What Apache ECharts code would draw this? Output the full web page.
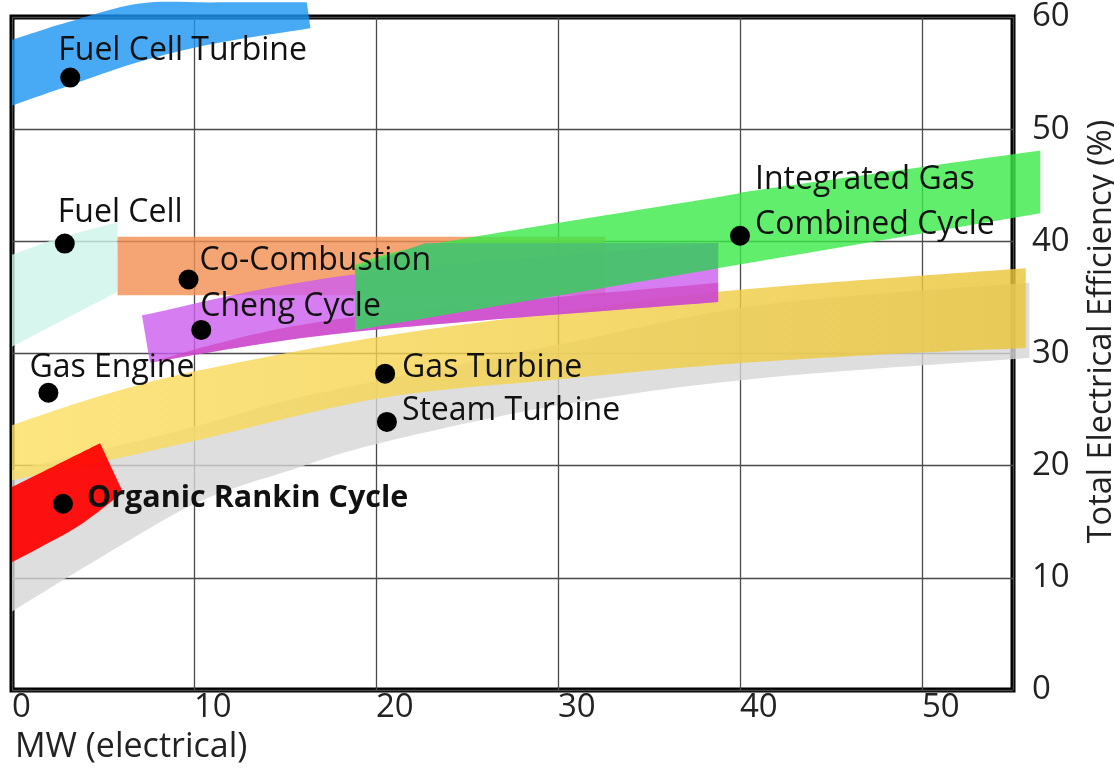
<!DOCTYPE html>
<html>
<head>
<meta charset="utf-8">
<script src="https://cdn.jsdelivr.net/npm/echarts@6/dist/echarts.min.js"></script>
<style>
html,body{margin:0;padding:0;background:#fff;}
#chart{width:1114px;height:772px;}
</style>
</head>
<body>
<div id="chart"></div>
<script>
// ================= DATA =================
const xTickValues = [0, 10, 20, 30, 40, 50];
const yTickValues = [0, 10, 20, 30, 40, 50, 60];
const xAxisTitle = 'MW (electrical)';
const yAxisTitle = 'Total Electrical Efficiency (%)';

// technology points
const technologies = ['Fuel Cell Turbine', 'Fuel Cell', 'Co-Combustion', 'Cheng Cycle', 'Gas Engine',
  'Gas Turbine', 'Steam Turbine', 'Organic Rankin Cycle', 'Integrated Gas\nCombined Cycle'];
const powerMW    = [3.2, 2.9, 9.7, 10.4, 2.0, 20.5, 20.6, 2.8, 40.0];
const efficiency = [54.6, 39.8, 36.6, 32.1, 26.5, 28.2, 23.9, 16.6, 40.5];

// range bands: edges as [MW, efficiency %]
const steamUpper   = [[0,19.6],[4.84,21.4],[10.3,23.6],[15.3,25.9],[20.2,27.6],[30.1,30.8],[41.1,34.3],[55.9,36.3]];
const steamLower   = [[0,7.0],[4.84,11.8],[10.3,16.8],[15.3,19.6],[20.2,22.0],[30.1,25.4],[41.1,27.8],[55.9,29.6]];
const gasUpper     = [[0,23.6],[4.84,26.2],[10.3,28.5],[20.2,31.5],[30.1,33.7],[38.8,35.5],[48.8,36.8],[55.7,37.6]];
const gasLower     = [[0,18.7],[4.84,20.3],[10.3,22.3],[20.2,26.0],[30.1,27.7],[38.8,29.0],[48.8,30.0],[55.7,30.5]];
const orcUpper     = [[0,18.1],[2.36,20.0],[4.84,22.0]];
const orcLower     = [[0,11.4],[1.54,12.7],[3.74,14.7],[6.10,17.6]];
const fuelCellUpper = [[0,38.8],[2.6,40.3],[5.8,41.7]];
const fuelCellLower = [[0,30.6],[2.6,32.8],[5.8,35.5]];
const coCombUpper  = [[5.8,40.4],[32.6,40.4]];
const coCombLower  = [[5.8,35.2],[32.6,35.2]];
const chengUpper   = [[7.14,33.4],[18.6,37.0],[38.8,39.85]];
const chengLower   = [[7.58,29.2],[18.6,31.9],[38.8,34.6]];
const chengLowUpper = [[10.3,30.5],[18.6,33.2],[38.8,36.3]];
const igccUpper    = [[18.85,37.9],[22.97,39.7],[38.8,43.95],[41.1,44.6],[56.5,48.1]];
const igccLower    = [[18.85,32.1],[56.5,42.5]];
const overlapUpper = [[18.85,37.6],[22.7,39.85],[38.8,39.85]];
const overlapLower = [[18.85,32.1],[38.8,37.6]];
const fctUpper     = [[0,57.95],[3,59.5],[7,61.2],[11,61.3],[16.2,61.3]];
const fctLower     = [[0,52.1],[3,53.8],[7,56.0],[11,57.6],[16.4,59.0]];

// ================= STYLE / LAYOUT =================
const FONT = 'Open Sans';
const bands = [
  {name: 'Steam Turbine range', upper: steamUpper, lower: steamLower, smooth: true, fill: 'rgba(214,214,214,0.8)'},
  {name: 'Gas Turbine range', upper: gasUpper, lower: gasLower, smooth: true,
    fill: new echarts.graphic.LinearGradient(0, 0, 1, 0, [
      {offset: 0, color: 'rgba(252,222,96,0.8)'}, {offset: 1, color: 'rgba(234,197,58,0.82)'}])},
  {name: 'Organic Rankin Cycle range', upper: orcUpper, lower: orcLower, smooth: true, fill: 'rgba(255,0,0,0.93)'},
  {name: 'Fuel Cell range', upper: fuelCellUpper, lower: fuelCellLower, smooth: true, fill: 'rgba(205,244,234,0.8)'},
  {name: 'Co-Combustion range', upper: coCombUpper, lower: coCombLower, smooth: false, fill: 'rgba(243,143,80,0.8)'},
  {name: 'Cheng Cycle range', upper: chengUpper, lower: chengLower, smooth: true, fill: 'rgba(205,93,239,0.8)'},
  {name: 'Cheng Cycle lower', upper: chengLowUpper, lower: chengLower, smooth: true, fill: 'rgba(205,61,186,0.6)'},
  {name: 'IGCC range', upper: igccUpper, lower: igccLower, smooth: true, fill: 'rgba(56,234,71,0.8)'},
  {name: 'Overlap', upper: overlapUpper, lower: overlapLower, smooth: false, fill: 'rgba(75,188,115,0.82)'},
  {name: 'Fuel Cell Turbine range', upper: fctUpper, lower: fctLower, smooth: true, fill: 'rgba(26,149,243,0.8)'}
];

// label offsets from the dot centre (px): [dx, dy]
const labelOffsets = [[-12,-27],[-7,-31],[11,-19],[-1,-23],[-19,-25],[17,-6],[15,-11],[24,-5],[15,-33]];
const DOT = 20;

function curve(pts, smooth, start) {
  let s = (start ? 'M' : 'L') + pts[0][0].toFixed(2) + ' ' + pts[0][1].toFixed(2);
  for (let i = 0; i < pts.length - 1; i++) {
    const p1 = pts[i], p2 = pts[i + 1];
    if (!smooth || pts.length < 3) { s += 'L' + p2[0].toFixed(2) + ' ' + p2[1].toFixed(2); continue; }
    const p0 = pts[i - 1] || p1, p3 = pts[i + 2] || p2;
    const c1 = [p1[0] + (p2[0] - p0[0]) / 6, p1[1] + (p2[1] - p0[1]) / 6];
    const c2 = [p2[0] - (p3[0] - p1[0]) / 6, p2[1] - (p3[1] - p1[1]) / 6];
    s += 'C' + c1[0].toFixed(2) + ' ' + c1[1].toFixed(2) + ' ' + c2[0].toFixed(2) + ' ' + c2[1].toFixed(2) + ' ' + p2[0].toFixed(2) + ' ' + p2[1].toFixed(2);
  }
  return s;
}

const bandSeries = bands.map(b => ({
  type: 'custom',
  name: b.name,
  coordinateSystem: 'cartesian2d',
  clip: false,
  silent: true,
  z: 2,
  data: [b.upper[0]],
  renderItem: function (params, api) {
    const up = b.upper.map(p => api.coord(p));
    const lo = b.lower.map(p => api.coord(p)).reverse();
    const d = curve(up, b.smooth, true) + curve(lo, b.smooth, false) + 'Z';
    return {type: 'path', shape: {pathData: d}, style: {fill: b.fill, stroke: null}};
  }
}));

const pointSeries = {
  type: 'scatter',
  name: 'Technologies',
  symbol: 'circle',
  symbolSize: DOT,
  z: 5,
  itemStyle: {color: '#000', opacity: 1},
  emphasis: {disabled: true},
  label: {
    show: true, formatter: '{b}', color: '#111', fontFamily: FONT, fontSize: 32,
    align: 'left', verticalAlign: 'middle', lineHeight: 45
  },
  data: technologies.map((name, i) => ({
    name: name,
    value: [powerMW[i], efficiency[i]],
    label: {
      position: [labelOffsets[i][0] + DOT / 2, labelOffsets[i][1] + DOT / 2],
      fontWeight: name === 'Organic Rankin Cycle' ? 'bold' : 'normal',
      fontSize: name === 'Organic Rankin Cycle' ? 30.5 : 32
    }
  }))
};

const chart = echarts.init(document.getElementById('chart'), null, {renderer: 'canvas'});
chart.setOption({
  animation: false,
  backgroundColor: '#fff',
  grid: {left: 12, right: 101, top: 17, bottom: 82, show: true, borderColor: '#000', borderWidth: 5,
    backgroundColor: 'transparent', outerBoundsMode: 'none', containLabel: false},
  xAxis: {
    type: 'value', min: xTickValues[0], max: 55, interval: 10,
    name: xAxisTitle, nameLocation: 'start', nameGap: -3,
    nameTextStyle: {fontFamily: FONT, fontSize: 34, color: '#222', align: 'left', verticalAlign: 'top', padding: [40, 0, 0, 0]},
    axisLine: {show: false}, axisTick: {show: false},
    axisLabel: {fontFamily: FONT, fontSize: 33, color: '#222', align: 'left', margin: 1,
      formatter: v => xTickValues.indexOf(v) >= 0 ? String(v) : ''},
    splitLine: {show: true, lineStyle: {color: '#4a4a4a', width: 1.3}}
  },
  yAxis: {
    type: 'value', position: 'right', min: yTickValues[0], max: 60, interval: 10,
    name: yAxisTitle, nameLocation: 'middle', nameRotate: 90, nameGap: 72,
    nameTextStyle: {fontFamily: FONT, fontSize: 32.5, color: '#222', padding: [0, 0, 0, 44]},
    axisLine: {show: false}, axisTick: {show: false},
    axisLabel: {fontFamily: FONT, fontSize: 33, color: '#222', margin: 19,
      formatter: v => yTickValues.indexOf(v) >= 0 ? String(v) : ''},
    splitLine: {show: true, lineStyle: {color: '#4a4a4a', width: 1.3}}
  },
  series: bandSeries.concat([pointSeries])
});
</script>
</body>
</html>
